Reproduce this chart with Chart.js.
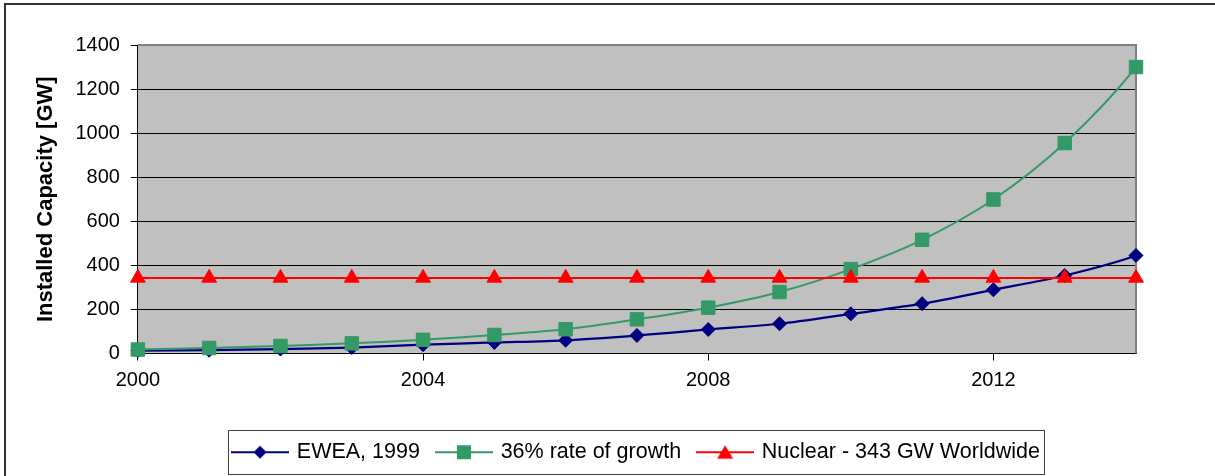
<!DOCTYPE html>
<html>
<head>
<meta charset="utf-8">
<script src="https://cdn.jsdelivr.net/npm/chart.js@4.4.1/dist/chart.umd.min.js"></script>
<style>
  html, body { margin: 0; padding: 0; background: #fff; }
  #wrap { width: 1215px; height: 476px; }
</style>
</head>
<body>
<div id="wrap"><canvas id="myChart" width="1215" height="476"></canvas></div>
<script>
// data (2015 only shows as the short stub past the right edge)
var years = [2000, 2001, 2002, 2003, 2004, 2005, 2006, 2007, 2008, 2009, 2010, 2011, 2012, 2013, 2014, 2015];
var ewea = [13, 15, 20, 27, 40, 50, 60, 82, 109, 135, 180, 226, 289, 354, 445, 590];
var growth = [18, 25, 34, 46, 62, 84, 110, 155, 208, 279, 383, 516, 699, 955, 1300, 1770];
var nuclear = [343, 343, 343, 343, 343, 343, 343, 343, 343, 343, 343, 343, 343, 343, 343, 343];
var seriesNames = ['EWEA, 1999', '36% rate of growth', 'Nuclear - 343 GW Worldwide'];
var xTicks = [2000, 2004, 2008, 2012];
var yTicks = [0, 200, 400, 600, 800, 1000, 1200, 1400];

var FONT = '"Liberation Sans", Arial, sans-serif';
Chart.defaults.font.family = FONT;
Chart.defaults.color = '#000';

function pts(vals) {
    return years.map(function (yr, i) { return { x: yr, y: vals[i] }; });
}

// line + marker sample for the legend, like Excel draws it
function makeIcon(color, shape) {
    var c = document.createElement('canvas');
    c.width = 58;
    c.height = 18;
    var g = c.getContext('2d');
    g.strokeStyle = color;
    g.lineWidth = 2;
    g.beginPath();
    g.moveTo(0, 9);
    g.lineTo(58, 9);
    g.stroke();
    g.fillStyle = color;
    g.beginPath();
    if (shape === 'diamond') {
        g.moveTo(22.5, 9); g.lineTo(29, 2.5); g.lineTo(35.5, 9); g.lineTo(29, 15.5);
    } else if (shape === 'square') {
        g.rect(22, 2, 14, 14);
    } else {
        g.moveTo(29, 2); g.lineTo(37, 15.5); g.lineTo(21, 15.5);
    }
    g.closePath();
    g.fill();
    return c;
}
var icons = [makeIcon('#000080', 'diamond'), makeIcon('#339966', 'square'), makeIcon('#FF0000', 'triangle')];

var chartDecor = {
    id: 'chartDecor',
    beforeDraw: function (chart) {
        var ctx = chart.ctx, a = chart.chartArea;
        ctx.save();
        ctx.fillStyle = '#C0C0C0';
        ctx.fillRect(a.left, a.top, a.right - a.left, a.bottom - a.top);
        // outer frame, runs off the right and bottom of the picture
        ctx.strokeStyle = '#333';
        ctx.lineWidth = 2;
        ctx.strokeRect(5, 4, 1400, 700);
        ctx.restore();
    },
    beforeDatasetsDraw: function (chart) {
        var ctx = chart.ctx, a = chart.chartArea;
        ctx.save();
        ctx.strokeStyle = '#808080';
        ctx.lineWidth = 2;
        ctx.beginPath();
        ctx.moveTo(a.left, a.top);
        ctx.lineTo(a.right, a.top);
        ctx.lineTo(a.right, a.bottom);
        ctx.stroke();
        ctx.restore();
    },
    afterDraw: function (chart) {
        var boxes = chart.legend.legendHitBoxes;
        if (!boxes || !boxes.length) return;
        var first = boxes[0], last = boxes[boxes.length - 1];
        var l = first.left - 6, r = last.left + last.width + 4;
        var cy = first.top + first.height / 2;
        var ctx = chart.ctx;
        ctx.save();
        ctx.strokeStyle = '#404040';
        ctx.lineWidth = 1;
        ctx.strokeRect(Math.round(l) + 0.5, Math.round(cy - 22) + 0.5, Math.round(r - l), 44);
        ctx.restore();
    }
};

var ctx = document.getElementById('myChart');
var myChart = new Chart(ctx, {
    type: 'line',
    data: {
        datasets: [{
            label: seriesNames[0],
            data: pts(ewea),
            borderColor: '#000080',
            backgroundColor: '#000080',
            borderWidth: 2.25,
            pointStyle: 'rectRot',
            pointRadius: 7,
            pointBorderWidth: 1,
            tension: 0.3,
            order: 3
        }, {
            label: seriesNames[1],
            data: pts(growth),
            borderColor: '#339966',
            backgroundColor: '#339966',
            borderWidth: 2,
            pointStyle: 'rect',
            pointRadius: 9.5,
            pointBorderWidth: 1,
            tension: 0.3,
            order: 2
        }, {
            label: seriesNames[2],
            data: pts(nuclear),
            borderColor: '#FF0000',
            backgroundColor: '#FF0000',
            borderWidth: 2,
            pointStyle: 'triangle',
            pointRadius: 8.5,
            pointBorderWidth: 1,
            tension: 0,
            order: 1
        }]
    },
    options: {
        responsive: false,
        animation: false,
        clip: { left: 12, top: 12, right: 8, bottom: 12 },
        layout: {
            padding: { left: 10, right: 79, top: 45, bottom: 3 }
        },
        plugins: {
            tooltip: { enabled: false },
            legend: {
                position: 'bottom',
                fullSize: false,
                labels: {
                    usePointStyle: true,
                    pointStyleWidth: 52,
                    padding: 18,
                    color: '#000',
                    font: { size: 21.5 },
                    sort: function (a, b) { return a.datasetIndex - b.datasetIndex; },
                    generateLabels: function (chart) {
                        var items = Chart.defaults.plugins.legend.labels.generateLabels(chart);
                        items.forEach(function (it) { it.pointStyle = icons[it.datasetIndex]; });
                        return items;
                    }
                }
            }
        },
        scales: {
            x: {
                type: 'linear',
                min: years[0],
                max: 2014,
                afterBuildTicks: function (s) {
                    s.ticks = xTicks.map(function (v) { return { value: v }; });
                },
                afterFit: function (s) {
                    s.height = 70;
                },
                ticks: {
                    color: '#000',
                    font: { size: 20 },
                    padding: 8,
                    maxRotation: 0,
                    callback: function (val) { return String(val); }
                },
                grid: {
                    drawOnChartArea: false,
                    color: '#000',
                    tickLength: 7
                },
                border: { color: '#000', width: 1 }
            },
            y: {
                min: yTicks[0],
                max: yTicks[yTicks.length - 1],
                afterBuildTicks: function (s) {
                    s.ticks = yTicks.map(function (v) { return { value: v }; });
                },
                ticks: {
                    color: '#000',
                    font: { size: 20 },
                    padding: 11,
                    callback: function (val) { return String(val); }
                },
                grid: {
                    color: '#000',
                    lineWidth: 1,
                    tickLength: 7
                },
                border: { color: '#000', width: 1 },
                title: {
                    display: true,
                    text: 'Installed Capacity [GW]',
                    color: '#000',
                    font: { size: 22, weight: 'bold' },
                    padding: { top: 23, bottom: 5 }
                }
            }
        }
    },
    plugins: [chartDecor]
});
</script>
</body>
</html>
